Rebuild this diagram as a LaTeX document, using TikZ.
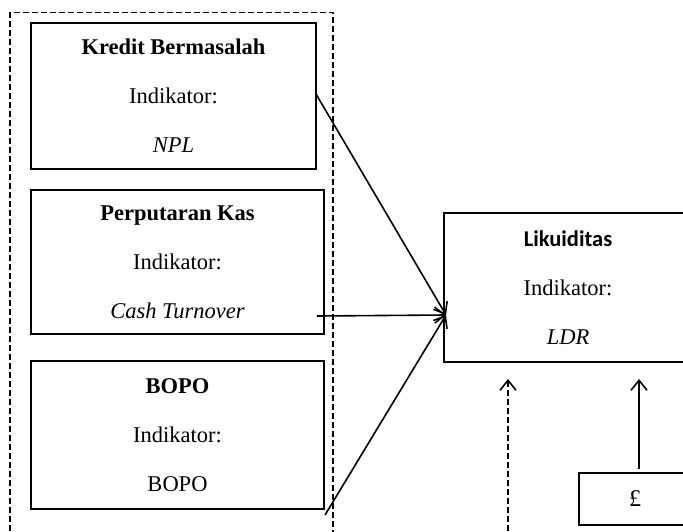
\documentclass[tikz,border=0pt]{standalone}
\usepackage{fontspec}
\setmainfont{Liberation Serif}
\newfontfamily\calfont{Carlito}
\usetikzlibrary{arrows.meta}
\begin{document}
\begin{tikzpicture}[x=1pt,y=-1pt,
  box/.style={draw,line width=1.6pt,rectangle,inner sep=0pt,align=center,
    font=\fontsize{22.5}{49}\selectfont},
  arr/.style={line width=1.6pt,-{Straight Barb[length=10pt,width=16pt,line width=1.6pt]}},
  dsh/.style={line width=1.3pt,dash pattern=on 6pt off 3pt}]
\useasboundingbox (0,0) rectangle (683,532);
\clip (0,0) rectangle (683,532);
\draw[dsh] (10,540) -- (10,12.5) -- (333,12.5) -- (333,540);
\node[box,minimum width=285pt,minimum height=146pt] (b1) at (173.5,96)
  {\textbf{Kredit Bermasalah}\\Indikator:\\\textit{NPL}};
\node[box,minimum width=293pt,minimum height=144pt] (b2) at (177.5,262)
  {\textbf{Perputaran Kas}\\Indikator:\\\textit{Cash Turnover}};
\node[box,minimum width=293pt,minimum height=148pt] (b3) at (177.5,435)
  {\textbf{BOPO}\\Indikator:\\BOPO};
\node[box,minimum width=248pt,minimum height=149pt] (liq) at (568,287.5)
  {{\calfont\bfseries Likuiditas}\\Indikator:\\\textit{LDR}};
\node[box,minimum width=112pt,minimum height=52pt,font=\fontsize{24}{28}\selectfont] (pound) at (635,499) {£};
\coordinate (tip) at (446,315);
\coordinate (s2) at (317,316);
\coordinate (s3) at (325,515);
\coordinate (s1) at (316,94);
\coordinate (dbot) at (508,540);
\coordinate (dtop) at (508,379);
\coordinate (ptop) at (639,379);
\coordinate (pstart) at (639,469);
\draw[arr] (s1) -- (tip);
\draw[arr] (s2) -- (tip);
\draw[arr] (s3) -- (tip);
\draw[arr,dsh] (dbot) -- (dtop);
\draw[arr] (pstart) -- (ptop);
\end{tikzpicture}
\end{document}
